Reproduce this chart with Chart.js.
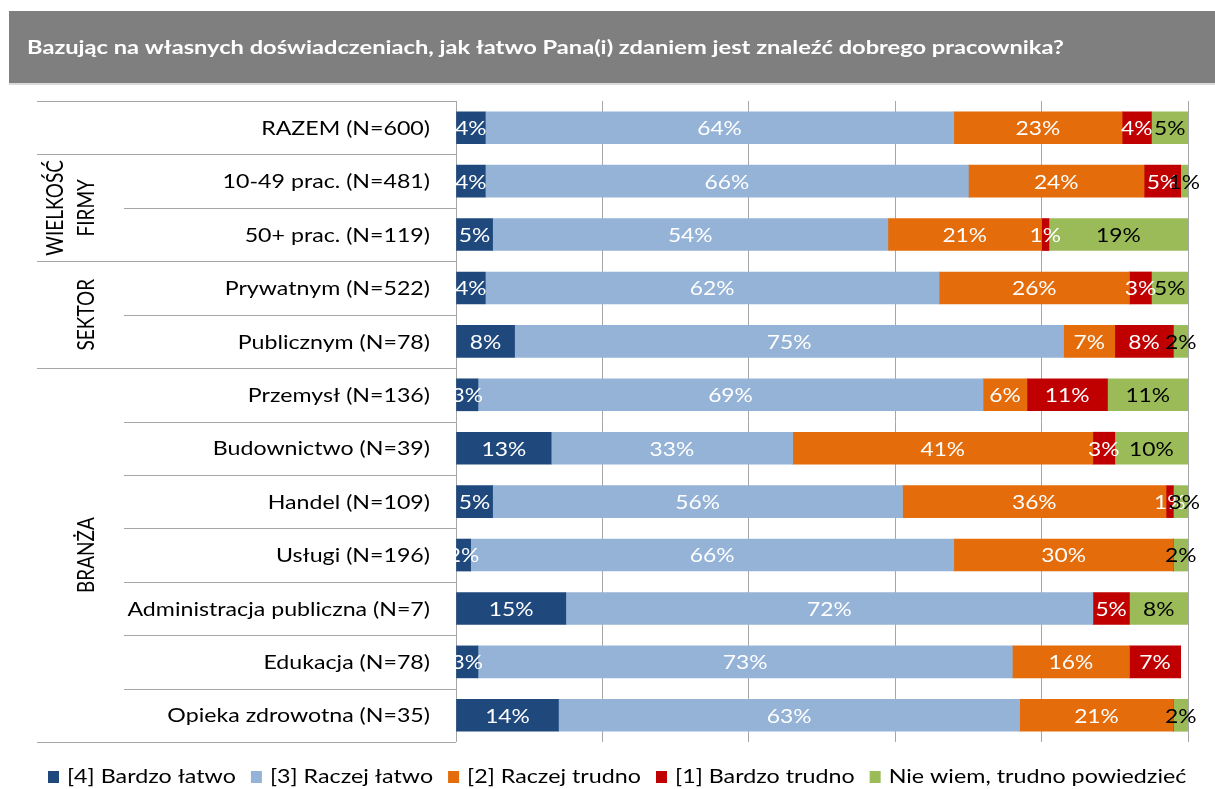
<!DOCTYPE html>
<html lang="pl">
<head>
<meta charset="utf-8">
<title>Łatwość znalezienia dobrego pracownika</title>
<script src="https://cdn.jsdelivr.net/npm/chart.js@4.4.1/dist/chart.umd.min.js"></script>
<style>
  html, body { margin: 0; padding: 0; background: #ffffff; }
  #wrap { position: relative; width: 1215px; height: 789px; }
  canvas { display: block; }
</style>
</head>
<body>
<div id="wrap"><canvas id="chart" width="1215" height="789"></canvas></div>
<script>
// Survey question
const questionTitle = 'Bazując na własnych doświadczeniach, jak łatwo Pana(i) zdaniem jest znaleźć dobrego pracownika?';

// Respondent groups (rows, top to bottom)
const categories = [
  'RAZEM (N=600)',
  '10-49 prac. (N=481)',
  '50+ prac. (N=119)',
  'Prywatnym (N=522)',
  'Publicznym (N=78)',
  'Przemysł (N=136)',
  'Budownictwo (N=39)',
  'Handel (N=109)',
  'Usługi (N=196)',
  'Administracja publiczna (N=7)',
  'Edukacja (N=78)',
  'Opieka zdrowotna (N=35)'
];

// Row-group headers: [lines, first row index, last row index]
const groupLabels = [
  [['WIELKOŚĆ', 'FIRMY'], 1, 2],
  [['SEKTOR'], 3, 4],
  [['BRANŻA'], 5, 11]
];

// Answer categories (legend order)
const seriesNames = [
  '[4] Bardzo łatwo',
  '[3] Raczej łatwo',
  '[2] Raczej trudno',
  '[1] Bardzo trudno',
  'Nie wiem, trudno powiedzieć'
];

// Shares of answers, % per row
const bardzoLatwo  = [4, 4, 5, 4, 8, 3, 13, 5, 2, 15, 3, 14];
const raczejLatwo  = [64, 66, 54, 62, 75, 69, 33, 56, 66, 72, 73, 63];
const raczejTrudno = [23, 24, 21, 26, 7, 6, 41, 36, 30, 0, 16, 21];
const bardzoTrudno = [4, 5, 1, 3, 8, 11, 3, 1, 0, 5, 7, 0];
const nieWiem      = [5, 1, 19, 5, 2, 11, 10, 3, 2, 8, 0, 2];

// Value axis gridline positions, %
const gridTicks = [0, 20, 40, 60, 80, 100];

const seriesValues = [bardzoLatwo, raczejLatwo, raczejTrudno, bardzoTrudno, nieWiem];
const seriesColors = ['#1F497D', '#95B3D7', '#E46C0A', '#C00000', '#9BBB59'];
const labelColors  = ['#FFFFFF', '#FFFFFF', '#FFFFFF', '#FFFFFF', '#000000'];

const FONT = 'Lato, "Open Sans", "Liberation Sans", sans-serif';
const LINE = '#A6A6A6';

// Text drawn with a horizontal stretch factor
function drawText(ctx, str, x, y, opt) {
  const sx = opt.sx || 1;
  ctx.save();
  ctx.font = opt.font;
  ctx.fillStyle = opt.color || '#000';
  ctx.textBaseline = 'middle';
  ctx.textAlign = 'left';
  const w = ctx.measureText(str).width * sx;
  let x0 = x;
  if (opt.align === 'right') x0 = x - w;
  else if (opt.align === 'center') x0 = x - w / 2;
  ctx.translate(x0, y);
  ctx.scale(sx, 1);
  ctx.fillText(str, 0, 0);
  ctx.restore();
  return w;
}

function drawRotated(ctx, str, cx, cy, opt) {
  const sy = opt.sx || 1;
  ctx.save();
  ctx.font = opt.font;
  ctx.fillStyle = opt.color || '#000';
  ctx.textBaseline = 'middle';
  ctx.textAlign = 'center';
  ctx.translate(cx, cy);
  ctx.rotate(-Math.PI / 2);
  ctx.scale(1, sy);
  ctx.fillText(str, 0, 0);
  ctx.restore();
}

function hLine(ctx, x1, x2, y) {
  ctx.beginPath();
  ctx.moveTo(x1, Math.round(y) + 0.5);
  ctx.lineTo(x2, Math.round(y) + 0.5);
  ctx.stroke();
}

// Banner, row table, category names, group headers and legend
const framePlugin = {
  id: 'frame',
  beforeDraw(chart) {
    const ctx = chart.ctx;
    ctx.save();
    ctx.fillStyle = '#FFFFFF';
    ctx.fillRect(0, 0, chart.width, chart.height);
    // title banner
    ctx.fillStyle = '#DADADA';
    ctx.fillRect(9, 83, chart.width - 9, 2);
    ctx.fillStyle = '#7F7F7F';
    ctx.fillRect(9, 11, chart.width - 9, 72);
    ctx.restore();
    drawText(ctx, questionTitle, 27, 48, { font: 'bold 19px ' + FONT, color: '#FFFFFF', sx: 1.245 });
  },
  afterDraw(chart) {
    const ctx = chart.ctx;
    const ys = chart.scales.y;
    const area = chart.chartArea;
    const n = categories.length;
    const bounds = [];
    for (let k = 0; k <= n; k++) {
      if (k === 0) bounds.push(area.top);
      else if (k === n) bounds.push(area.bottom);
      else bounds.push((ys.getPixelForValue(k - 1) + ys.getPixelForValue(k)) / 2);
    }
    const groupStarts = new Set([0, 1]);
    groupLabels.forEach(g => { groupStarts.add(g[1]); groupStarts.add(g[2] + 1); });

    ctx.save();
    ctx.strokeStyle = LINE;
    ctx.lineWidth = 1;
    for (let k = 0; k <= n; k++) {
      const x1 = groupStarts.has(k) ? 37 : 124;
      hLine(ctx, x1, area.left, bounds[k]);
    }
    ctx.restore();

    categories.forEach((c, i) => {
      drawText(ctx, c, 430, ys.getPixelForValue(i) + 1, { font: '19px ' + FONT, color: '#000', align: 'right', sx: 1.22 });
    });

    groupLabels.forEach(g => {
      const cy = (bounds[g[1]] + bounds[g[2] + 1]) / 2;
      const lines = g[0];
      if (lines.length === 2) {
        drawRotated(ctx, lines[0], 56, cy, { font: '19px ' + FONT, sx: 1.2 });
        drawRotated(ctx, lines[1], 87, cy, { font: '19px ' + FONT, sx: 1.2 });
      } else {
        drawRotated(ctx, lines[0], 87, cy, { font: '19px ' + FONT, sx: 1.2 });
      }
    });

    // legend
    let x = 48;
    const ly = 777;
    seriesNames.forEach((name, i) => {
      ctx.save();
      ctx.fillStyle = seriesColors[i];
      ctx.fillRect(x, ly - 6, 11, 12);
      ctx.restore();
      const w = drawText(ctx, name, x + 19, ly, { font: '19px ' + FONT, color: '#000', sx: 1.225 });
      x += 19 + w + 15;
    });
  }
};

// Percentage labels centred in each segment
const valueLabelPlugin = {
  id: 'valueLabels',
  afterDatasetsDraw(chart) {
    const ctx = chart.ctx;
    chart.data.datasets.forEach((ds, di) => {
      const meta = chart.getDatasetMeta(di);
      meta.data.forEach((bar, i) => {
        const v = ds.data[i];
        if (!v) return;
        const cx = (bar.x + bar.base) / 2;
        drawText(ctx, v + '%', cx, bar.y + 1, { font: '20px ' + FONT, color: labelColors[di], align: 'center', sx: 1.14 });
      });
    });
  }
};

new Chart(document.getElementById('chart'), {
  type: 'bar',
  data: {
    labels: categories,
    datasets: seriesNames.map((name, i) => ({
      label: name,
      data: seriesValues[i],
      backgroundColor: seriesColors[i],
      borderWidth: 0,
      barThickness: 32
    }))
  },
  options: {
    indexAxis: 'y',
    responsive: false,
    animation: false,
    devicePixelRatio: 1,
    layout: { padding: { left: 456, right: 27, top: 101, bottom: 47 } },
    scales: {
      x: {
        stacked: true,
        min: 0,
        max: 100,
        afterBuildTicks(scale) { scale.ticks = gridTicks.map(v => ({ value: v })); },
        ticks: { display: false },
        grid: { color: LINE, lineWidth: 1, drawTicks: false },
        border: { display: false },
        afterFit(scale) { scale.height = 0; }
      },
      y: { stacked: true, display: false }
    },
    plugins: {
      legend: { display: false },
      tooltip: { enabled: false },
      title: { display: false }
    }
  },
  plugins: [framePlugin, valueLabelPlugin]
});
</script>
</body>
</html>
